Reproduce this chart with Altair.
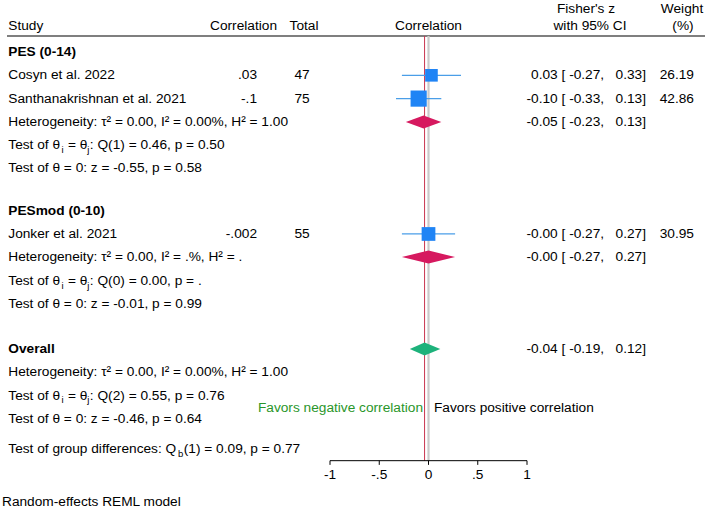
import altair as alt
import pandas as pd

FONT = "Liberation Sans"
FS = 13.7
SUB_FS = 9.5

# ---- study-level results (Fisher's z with 95% CI) ----
studies = ["Cosyn et al. 2022", "Santhanakrishnan et al. 2021", "Jonker et al. 2021"]
study_corr = [".03", "-.1", "-.002"]
study_total = [47, 75, 55]
study_z = [0.03, -0.10, -0.00]
study_lo = [-0.27, -0.33, -0.27]
study_hi = [0.33, 0.13, 0.27]
study_weight = [26.19, 42.86, 30.95]
study_row = [2, 3, 8.81]

# ---- subgroup and overall pooled estimates ----
pooled_names = ["PES (0-14)", "PESmod (0-10)", "Overall"]
pooled_z = [-0.05, -0.00, -0.04]
pooled_lo = [-0.23, -0.27, -0.19]
pooled_hi = [0.13, 0.27, 0.12]
pooled_color = ["#d6195f", "#d6195f", "#1db27b"]
pooled_head_row = [1, 7.82, 13.75]
pooled_est_row = [4, 9.8, 13.75]

# ---- heterogeneity statistics ----
het_text = [
    "Heterogeneity: τ² = 0.00, I² = 0.00%, H² = 1.00",
    "Heterogeneity: τ² = 0.00, I² = .%, H² = .",
    "Heterogeneity: τ² = 0.00, I² = 0.00%, H² = 1.00",
]
het_row = [4, 9.8, 14.73]
q_text = [": Q(1) = 0.46, p = 0.50", ": Q(0) = 0.00, p = .", ": Q(2) = 0.55, p = 0.76"]
q_row = [5, 10.83, 15.76]
z_text = [
    "Test of θ = 0: z = -0.55, p = 0.58",
    "Test of θ = 0: z = -0.01, p = 0.99",
    "Test of θ = 0: z = -0.46, p = 0.64",
]
z_row = [6, 11.8, 16.75]
group_test = ["Test of group differences: Q", "b", "(1) = 0.09, p = 0.77"]
group_row = 18.04

# ---- x axis ----
tick_values = [-1, -0.5, 0, 0.5, 1]
tick_labels = ["-1", "-.5", "0", ".5", "1"]

# ---- layout of the canvas (row units on y, effect units on x) ----
W, H = 709, 509
X_DOM = [-4.3503, 2.8477]
Y_DOM = [-1.2318, 20.614]
HEAD_TOP, HEAD_MAIN, HEAD_LINE = -0.85, -0.116, 0.313
AXIS_ROW, TICK_END, TICK_LABEL_ROW = 18.54, 18.72, 19.15
FAVORS_ROW, NOTE_ROW = 16.28, 20.31
DIAMOND_HALF = 0.28

xs = alt.Scale(domain=X_DOM)
ys = alt.Scale(domain=Y_DOM, reverse=True)


def px_to_x(px):
    return X_DOM[0] + px / W * (X_DOM[1] - X_DOM[0])


# Helvetica/Arial advance widths (1/1000 em) for the run-in text pieces
ADV = {
    "T": 611, "e": 556, "s": 500, "t": 278, " ": 278, "o": 556, "f": 278,
    "θ": 556, "=": 584, "i": 222, "j": 222, "Q": 778, "g": 556, "r": 333,
    "u": 556, "p": 556, "d": 556, "c": 500, "n": 556, ":": 278, "b": 556,
}


def text_width(s, size):
    return sum(ADV.get(ch, 556) for ch in s) * size / 1000.0


def nb(s):
    return s.replace(" ", "\u00a0")


# ---- tables ----
studies_df = pd.DataFrame({
    "study": studies, "corr": study_corr, "total": study_total,
    "z": study_z, "lo": study_lo, "hi": study_hi, "w": study_weight, "row": study_row,
})
studies_df["size"] = studies_df["w"] * 6.1
studies_df["ci"] = [nb(f"{z:.2f} [{l:6.2f}, {h:6.2f}]") for z, l, h in zip(study_z, study_lo, study_hi)]
studies_df["wtxt"] = [f"{w:.2f}" for w in study_weight]

pooled_df = pd.DataFrame({
    "name": pooled_names, "z": pooled_z, "lo": pooled_lo, "hi": pooled_hi,
    "row": pooled_est_row, "head": pooled_head_row, "color": pooled_color,
})
pooled_df["ci"] = [nb(f"{z:.2f} [{l:6.2f}, {h:6.2f}]") for z, l, h in zip(pooled_z, pooled_lo, pooled_hi)]

diamond_rows = []
for n, z, l, h, r, c in zip(pooled_names, pooled_z, pooled_lo, pooled_hi, pooled_est_row, pooled_color):
    diamond_rows += [
        {"name": n, "x": l, "y1": r, "y2": r, "color": c},
        {"name": n, "x": z, "y1": r - DIAMOND_HALF, "y2": r + DIAMOND_HALF, "color": c},
        {"name": n, "x": h, "y1": r, "y2": r, "color": c},
    ]
diamond_df = pd.DataFrame(diamond_rows)

plain_lines = pd.DataFrame({
    "txt": het_text + z_text,
    "row": het_row + z_row,
})

# run-in pieces for lines with subscripts; leading blanks become x offsets
LEFT = 8.3
pieces, subs = [], []


def run_in(segments, row):
    x = LEFT
    for seg, is_sub in segments:
        size = SUB_FS if is_sub else FS
        lead = len(seg) - len(seg.lstrip(" "))
        body = seg.lstrip(" ")
        x0 = x + text_width(" " * lead, size)
        (subs if is_sub else pieces).append({"txt": nb(body), "x": px_to_x(x0), "row": row})
        x = x0 + text_width(body, size) + (0.4 if is_sub else 0)


for q, r in zip(q_text, q_row):
    run_in([("Test of θ", False), ("i", True), (" = θ", False), ("j", True), (q, False)], r)
run_in([(group_test[0], False), (group_test[1], True), (group_test[2], False)], group_row)
pieces_df = pd.DataFrame(pieces)
subs_df = pd.DataFrame(subs)

ticks_df = pd.DataFrame({"v": tick_values, "lab": tick_labels})

headers_df = pd.DataFrame({
    "txt": ["Correlation", "Fisher's z", "with 95% CI", "Weight", "(%)"],
    "x": [0.0, px_to_x(586), px_to_x(590), px_to_x(682), px_to_x(683)],
    "row": [HEAD_MAIN, HEAD_TOP, HEAD_MAIN, HEAD_TOP, HEAD_MAIN],
})

txt = dict(font=FONT, fontSize=FS, baseline="middle", color="black")

layers = []

# header rule and reference lines
layers.append(alt.Chart(pd.DataFrame({"r": [HEAD_LINE]})).mark_rule(color="black", strokeWidth=1.2).encode(
    x=alt.value(7), x2=alt.value(705), y=alt.Y("r:Q", scale=ys, axis=None)))
layers.append(alt.Chart(pd.DataFrame({"v": [0.0], "a": [HEAD_LINE], "b": [AXIS_ROW]})).mark_rule(
    color="#c9c9c9", strokeWidth=2.2).encode(
    x=alt.X("v:Q", scale=xs, axis=None), y=alt.Y("a:Q", scale=ys, axis=None), y2="b:Q"))
layers.append(alt.Chart(pd.DataFrame({"v": [pooled_z[2]], "a": [HEAD_LINE], "b": [AXIS_ROW]})).mark_rule(
    color="#c8344e", strokeWidth=1).encode(
    x=alt.X("v:Q", scale=xs, axis=None), y=alt.Y("a:Q", scale=ys, axis=None), y2="b:Q"))

# CI whiskers and weighted squares
layers.append(alt.Chart(studies_df).mark_rule(color="#4a9ee8", strokeWidth=1.3).encode(
    x=alt.X("lo:Q", scale=xs, axis=None), x2="hi:Q", y=alt.Y("row:Q", scale=ys, axis=None)))
layers.append(alt.Chart(studies_df).mark_square(filled=True, opacity=1, color="#1f84f5").encode(
    x=alt.X("z:Q", scale=xs, axis=None), y=alt.Y("row:Q", scale=ys, axis=None),
    size=alt.Size("size:Q", scale=None, legend=None)))

# pooled diamonds
layers.append(alt.Chart(diamond_df).mark_area(orient="vertical", opacity=1).encode(
    x=alt.X("x:Q", scale=xs, axis=None), y=alt.Y("y1:Q", scale=ys, axis=None), y2="y2:Q",
    detail="name:N", color=alt.Color("color:N", scale=None, legend=None)))

# hand-drawn x axis limited to [-1, 1]
layers.append(alt.Chart(pd.DataFrame({"a": [-1], "b": [1], "r": [AXIS_ROW]})).mark_rule(
    color="black", strokeWidth=1).encode(
    x=alt.X("a:Q", scale=xs, axis=None), x2="b:Q", y=alt.Y("r:Q", scale=ys, axis=None)))
ticks_df["a"] = AXIS_ROW
ticks_df["b"] = TICK_END
ticks_df["lr"] = TICK_LABEL_ROW
layers.append(alt.Chart(ticks_df).mark_rule(color="black", strokeWidth=1).encode(
    x=alt.X("v:Q", scale=xs, axis=None), y=alt.Y("a:Q", scale=ys, axis=None), y2="b:Q"))
layers.append(alt.Chart(ticks_df).mark_text(align="center", **txt).encode(
    x=alt.X("v:Q", scale=xs, axis=None), y=alt.Y("lr:Q", scale=ys, axis=None), text="lab:N"))

# column headers
layers.append(alt.Chart(pd.DataFrame({"t": ["Study"], "r": [HEAD_MAIN]})).mark_text(align="left", **txt).encode(
    x=alt.value(LEFT), y=alt.Y("r:Q", scale=ys, axis=None), text="t:N"))
layers.append(alt.Chart(pd.DataFrame({"t": ["Correlation"], "r": [HEAD_MAIN]})).mark_text(align="right", **txt).encode(
    x=alt.value(277), y=alt.Y("r:Q", scale=ys, axis=None), text="t:N"))
layers.append(alt.Chart(pd.DataFrame({"t": ["Total"], "r": [HEAD_MAIN]})).mark_text(align="center", **txt).encode(
    x=alt.value(304), y=alt.Y("r:Q", scale=ys, axis=None), text="t:N"))
layers.append(alt.Chart(headers_df).mark_text(align="center", **txt).encode(
    x=alt.X("x:Q", scale=xs, axis=None), y=alt.Y("row:Q", scale=ys, axis=None), text="txt:N"))

# section headers
layers.append(alt.Chart(pooled_df).mark_text(align="left", fontWeight="bold", **txt).encode(
    x=alt.value(LEFT), y=alt.Y("head:Q", scale=ys, axis=None), text="name:N"))

# study columns
layers.append(alt.Chart(studies_df).mark_text(align="left", **txt).encode(
    x=alt.value(LEFT), y=alt.Y("row:Q", scale=ys, axis=None), text="study:N"))
layers.append(alt.Chart(studies_df).mark_text(align="right", **txt).encode(
    x=alt.value(257), y=alt.Y("row:Q", scale=ys, axis=None), text="corr:N"))
layers.append(alt.Chart(studies_df).mark_text(align="center", **txt).encode(
    x=alt.value(302), y=alt.Y("row:Q", scale=ys, axis=None), text="total:Q"))
layers.append(alt.Chart(studies_df).mark_text(align="right", **txt).encode(
    x=alt.value(646), y=alt.Y("row:Q", scale=ys, axis=None), text="ci:N"))
layers.append(alt.Chart(studies_df).mark_text(align="right", **txt).encode(
    x=alt.value(694), y=alt.Y("row:Q", scale=ys, axis=None), text="wtxt:N"))
layers.append(alt.Chart(pooled_df).mark_text(align="right", **txt).encode(
    x=alt.value(646), y=alt.Y("row:Q", scale=ys, axis=None), text="ci:N"))

# heterogeneity and test lines
layers.append(alt.Chart(plain_lines).mark_text(align="left", **txt).encode(
    x=alt.value(LEFT), y=alt.Y("row:Q", scale=ys, axis=None), text="txt:N"))
layers.append(alt.Chart(pieces_df).mark_text(align="left", **txt).encode(
    x=alt.X("x:Q", scale=xs, axis=None), y=alt.Y("row:Q", scale=ys, axis=None), text="txt:N"))
layers.append(alt.Chart(subs_df).mark_text(align="left", font=FONT, fontSize=SUB_FS, baseline="middle",
                                           color="black", dy=4.5).encode(
    x=alt.X("x:Q", scale=xs, axis=None), y=alt.Y("row:Q", scale=ys, axis=None), text="txt:N"))

# direction labels either side of zero
layers.append(alt.Chart(pd.DataFrame({"v": [0.0], "r": [FAVORS_ROW], "t": ["Favors negative correlation"]})).mark_text(
    align="right", dx=-5.5, font=FONT, fontSize=FS, baseline="middle", color="#2a962a").encode(
    x=alt.X("v:Q", scale=xs, axis=None), y=alt.Y("r:Q", scale=ys, axis=None), text="t:N"))
layers.append(alt.Chart(pd.DataFrame({"v": [0.0], "r": [FAVORS_ROW], "t": ["Favors positive correlation"]})).mark_text(
    align="left", dx=5.5, **txt).encode(
    x=alt.X("v:Q", scale=xs, axis=None), y=alt.Y("r:Q", scale=ys, axis=None), text="t:N"))

# model note
layers.append(alt.Chart(pd.DataFrame({"t": ["Random-effects REML model"], "r": [NOTE_ROW]})).mark_text(
    align="left", **txt).encode(
    x=alt.value(2), y=alt.Y("r:Q", scale=ys, axis=None), text="t:N"))

chart = alt.layer(*layers).properties(
    width=W, height=H, padding=0, autosize=alt.AutoSizeParams(type="none"), background="white"
).configure_view(stroke=None)

chart.save("out.html", embed_options={"renderer": "svg", "actions": False})
